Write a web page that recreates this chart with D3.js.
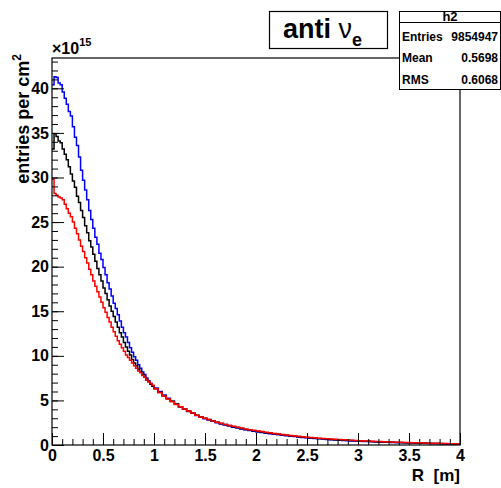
<!DOCTYPE html>
<html>
<head>
<meta charset="utf-8">
<script src="https://cdn.jsdelivr.net/npm/d3@7"></script>
<style>
  html, body { margin: 0; padding: 0; background: #fff; }
  svg { display: block; }
  text { font-family: "Liberation Sans", Arial, Helvetica, sans-serif; font-weight: bold; }
</style>
</head>
<body>
<svg id="chart" width="501" height="488"></svg>
<script>
// binning: 0.02 m bins below 1 m, 0.04 m bins from 1 to 4 m
const innerWidth = 0.02;
const outerWidth = 0.04;
const outerStart = 1;
const xDomain = [0, 4];
const yMax = 43.4;   // in units of 1e15

// bin contents (x 1e15) for R < 1 m
const blueInner  = [40.4, 41.3, 41.2, 40.6, 40.4, 39.6, 38.9, 38.2, 37.4, 36.9, 35.7, 34.5, 33.6, 32.3, 30.8, 29.7, 28.6, 27.5, 26.3, 25.3,
                    24.3, 23.3, 22.5, 21.5, 20.8, 19.9, 19.1, 18.2, 17.5, 16.7, 15.9, 15.3, 14.6, 13.9, 13.2, 12.6, 12.1, 11.5, 10.9, 10.4,
                    9.9, 9.5, 9.0, 8.6, 8.2, 7.9, 7.5, 7.2, 6.9, 6.6];
const blackInner = [33.2, 34.9, 34.6, 34.1, 33.9, 33.2, 32.6, 32.0, 31.2, 30.4, 29.6, 28.9, 27.9, 27.2, 26.3, 25.5, 24.6, 23.8, 22.9, 22.2,
                    21.4, 20.6, 19.8, 19.1, 18.4, 17.6, 17.0, 16.3, 15.6, 15.0, 14.4, 13.8, 13.2, 12.6, 12.1, 11.5, 11.0, 10.5, 10.1, 9.6,
                    9.2, 8.9, 8.5, 8.2, 7.9, 7.6, 7.3, 7.1, 6.8, 6.6];
const redInner   = [29.8, 28.2, 28.0, 27.8, 27.7, 27.5, 27.0, 26.5, 26.0, 25.6, 25.0, 24.3, 23.7, 23.0, 22.3, 21.7, 21.0, 20.4, 19.7, 19.1,
                    18.4, 17.8, 17.2, 16.6, 16.0, 15.4, 14.9, 14.3, 13.8, 13.2, 12.7, 12.2, 11.7, 11.3, 10.9, 10.5, 10.1, 9.8, 9.5, 9.2,
                    8.9, 8.6, 8.3, 8.1, 7.8, 7.6, 7.3, 7.1, 6.9, 6.7];

// bin contents for R >= 1 m
const blueOuter  = [6.4, 6.0, 5.6, 5.25, 4.9, 4.6, 4.3, 4.0, 3.75, 3.55, 3.3, 3.1, 2.95, 2.8, 2.65, 2.5, 2.35, 2.25, 2.12, 2.0,
                    1.9, 1.8, 1.7, 1.62, 1.54, 1.46, 1.4, 1.33, 1.27, 1.21, 1.15, 1.09, 1.04, 0.99, 0.94, 0.89, 0.84, 0.8, 0.76, 0.72,
                    0.69, 0.66, 0.62, 0.59, 0.56, 0.54, 0.51, 0.48, 0.46, 0.44, 0.42, 0.4, 0.38, 0.36, 0.34, 0.33, 0.31, 0.3, 0.28, 0.27,
                    0.26, 0.24, 0.23, 0.22, 0.21, 0.2, 0.19, 0.18, 0.17, 0.16, 0.15, 0.14, 0.13, 0.12, 0.11];
const blackOuter = [6.3, 5.9, 5.5, 5.2, 4.9, 4.6, 4.3, 4.05, 3.8, 3.6, 3.35, 3.15, 3.0, 2.85, 2.7, 2.55, 2.4, 2.3, 2.2, 2.05,
                    1.95, 1.85, 1.75, 1.68, 1.6, 1.52, 1.45, 1.38, 1.32, 1.26, 1.2, 1.14, 1.08, 1.03, 0.98, 0.93, 0.88, 0.84, 0.8, 0.76,
                    0.73, 0.7, 0.66, 0.63, 0.6, 0.57, 0.55, 0.52, 0.5, 0.47, 0.45, 0.43, 0.41, 0.39, 0.37, 0.35, 0.34, 0.32, 0.31, 0.29,
                    0.28, 0.26, 0.25, 0.24, 0.23, 0.22, 0.2, 0.19, 0.18, 0.17, 0.16, 0.15, 0.14, 0.13, 0.12];
const redOuter   = [6.3, 5.9, 5.5, 5.15, 4.85, 4.55, 4.3, 4.05, 3.8, 3.6, 3.35, 3.15, 3.0, 2.85, 2.7, 2.55, 2.45, 2.3, 2.2, 2.1,
                    2.0, 1.9, 1.8, 1.72, 1.65, 1.57, 1.5, 1.42, 1.36, 1.3, 1.24, 1.18, 1.12, 1.07, 1.02, 0.97, 0.92, 0.88, 0.84, 0.8,
                    0.76, 0.73, 0.7, 0.67, 0.64, 0.61, 0.58, 0.55, 0.53, 0.5, 0.48, 0.46, 0.44, 0.42, 0.4, 0.39, 0.37, 0.35, 0.34, 0.32,
                    0.3, 0.29, 0.27, 0.26, 0.25, 0.24, 0.22, 0.21, 0.2, 0.19, 0.17, 0.16, 0.15, 0.14, 0.12];

const xTicks = [0, 0.5, 1, 1.5, 2, 2.5, 3, 3.5, 4];
const yTicks = [0, 5, 10, 15, 20, 25, 30, 35, 40];

const statNames  = ['Entries', 'Mean', 'RMS'];
const statValues = ['9854947', '0.5698', '0.6068'];

// draw order: blue under black under red
const series = [
  { color: '#0000ff', inner: blueInner,  outer: blueOuter },
  { color: '#000000', inner: blackInner, outer: blackOuter },
  { color: '#ff0000', inner: redInner,   outer: redOuter }
];

const svg = d3.select('#chart');
const L = 52, R = 460, T = 58, B = 445;

const x = d3.scaleLinear().domain(xDomain).range([L, R]);
const y = d3.scaleLinear().domain([0, yMax]).range([B, T]);

svg.append('rect').attr('width', 501).attr('height', 488).attr('fill', '#fff');

// histograms as steps
const line = d3.line()
  .x(d => x(d[0]))
  .y(d => y(d[1]))
  .curve(d3.curveStepAfter);

series.forEach(s => {
  const pts = s.inner.map((v, i) => [i * innerWidth, v])
    .concat(s.outer.map((v, j) => [outerStart + j * outerWidth, v]));
  pts.push([xDomain[1], s.outer[s.outer.length - 1]]);
  svg.append('path')
    .attr('d', line(pts))
    .attr('fill', 'none')
    .attr('stroke', s.color)
    .attr('stroke-width', 1.5);
});

// axes, ticks pointing inward
const fs = 16;
const yMinor = d3.range(0, 44, 1);
const xMinor = d3.range(0, 41, 1).map(d => d / 10);

const yMinorAxis = svg.append('g').attr('transform', `translate(${L},0)`)
  .call(d3.axisLeft(y).tickValues(yMinor).tickSizeInner(-6).tickSizeOuter(0));
const yAxis = svg.append('g').attr('transform', `translate(${L},0)`)
  .call(d3.axisLeft(y).tickValues(yTicks).tickSizeInner(-12).tickSizeOuter(0).tickPadding(3).tickFormat(d3.format('d')));
const xMinorAxis = svg.append('g').attr('transform', `translate(0,${B})`)
  .call(d3.axisBottom(x).tickValues(xMinor).tickSizeInner(-6).tickSizeOuter(0));
const xAxis = svg.append('g').attr('transform', `translate(0,${B})`)
  .call(d3.axisBottom(x).tickValues(xTicks).tickSizeInner(-12).tickSizeOuter(0).tickPadding(5).tickFormat(d => String(d)));

// minor axes carry only tick marks
[yMinorAxis, xMinorAxis].forEach(g => g.selectAll('text').remove());

[yMinorAxis, yAxis, xMinorAxis, xAxis].forEach(g => {
  g.select('.domain').remove();
  g.selectAll('line').attr('stroke', '#000').attr('stroke-width', 1);
  g.selectAll('text').attr('font-size', fs).attr('font-weight', 'bold')
    .attr('font-family', '"Liberation Sans", Arial, sans-serif').attr('fill', '#000');
});

// frame
svg.append('rect')
  .attr('x', L).attr('y', T).attr('width', R - L).attr('height', B - T)
  .attr('fill', 'none').attr('stroke', '#000').attr('stroke-width', 1.2);

// exponent marker
const expo = svg.append('text').attr('x', L).attr('y', 54).attr('font-size', 16);
expo.append('tspan').text('\u00d710');
expo.append('tspan').attr('font-size', 11).attr('dy', -8).text('15');

// axis titles
svg.append('text')
  .attr('x', R).attr('y', 481).attr('text-anchor', 'end').attr('font-size', 17)
  .text('R\u00a0\u00a0[m]');

const yt = svg.append('text')
  .attr('transform', 'translate(29,54) rotate(-90)')
  .attr('text-anchor', 'end').attr('font-size', 18);
yt.append('tspan').text('entries per cm');
yt.append('tspan').attr('font-size', 12).attr('dy', -8).text('2');

// title box
svg.append('rect').attr('x', 269.5).attr('y', 11.5).attr('width', 118).attr('height', 37)
  .attr('fill', '#fff').attr('stroke', '#000').attr('stroke-width', 1.2);
const title = svg.append('text').attr('x', 283).attr('y', 38).attr('font-size', 27);
title.append('tspan').text('anti ');
title.append('tspan').attr('font-weight', 'normal').text('\u03bd');
title.append('tspan').attr('font-size', 18).attr('dy', 8).text('e');

// stats box
const sx = 399.5, sw = 101, sy = 11.5, sh = 78;
svg.append('rect').attr('x', sx).attr('y', sy).attr('width', sw).attr('height', sh)
  .attr('fill', '#fff').attr('stroke', '#000').attr('stroke-width', 1);
svg.append('line').attr('x1', sx).attr('x2', sx + sw).attr('y1', 22.5).attr('y2', 22.5)
  .attr('stroke', '#000').attr('stroke-width', 1);
svg.append('text').attr('x', sx + sw / 2).attr('y', 21).attr('text-anchor', 'middle')
  .attr('font-size', 13).text('h2');
statNames.forEach((n, i) => {
  const ty = 41 + i * 21.3;
  svg.append('text').attr('x', 402).attr('y', ty).attr('font-size', 12).text(n);
  svg.append('text').attr('x', 498).attr('y', ty).attr('text-anchor', 'end')
    .attr('font-size', 12).text(statValues[i]);
});
</script>
</body>
</html>
